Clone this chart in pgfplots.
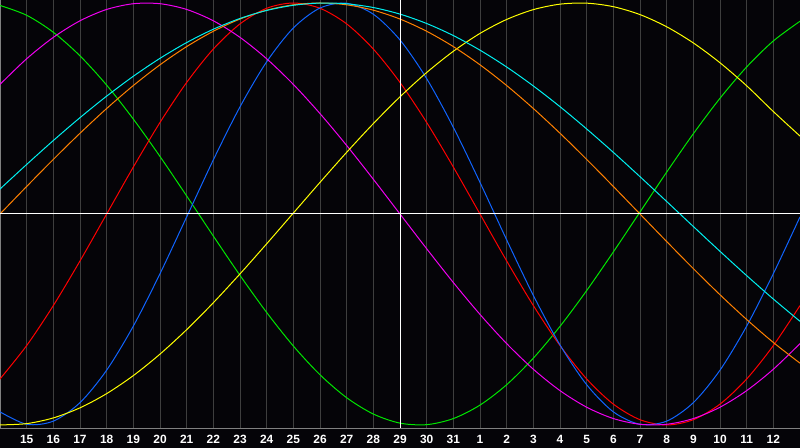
\documentclass[border=0pt]{standalone}
\usepackage{fontspec}
\setmainfont{Liberation Sans}
\usepackage{pgfplots}
\usepackage{pgfplotstable}
\pgfplotsset{compat=1.18}

\definecolor{bgc}{RGB}{5,4,8}
\definecolor{gridc}{RGB}{62,62,62}
\definecolor{framec}{RGB}{128,128,128}
\definecolor{cgreen}{RGB}{0,230,0}
\definecolor{cred}{RGB}{255,0,0}
\definecolor{cblue}{RGB}{16,100,255}
\definecolor{cmag}{RGB}{240,0,240}
\definecolor{cyel}{RGB}{255,255,0}
\definecolor{ccyan}{RGB}{0,240,240}
\definecolor{corange}{RGB}{255,128,0}

% day index (0 = left edge), one column per cycle
\pgfplotstableread{
t  green   red     blue    mag     yel     cyan    orange
0  0.9884 -0.7818 -0.9376  0.6142 -0.9995  0.1183  0.0000
1  0.9418 -0.6235 -0.9966  0.7357 -0.9935  0.2348  0.1305
2  0.8612 -0.4339 -0.9817  0.8371 -0.9664  0.3482  0.2588
3  0.7495 -0.2225 -0.8940  0.9157 -0.9186  0.4566  0.3827
4  0.6107  0.0000 -0.7401  0.9694 -0.8512  0.5586  0.5000
5  0.4498  0.2225 -0.5312  0.9966 -0.7658  0.6528  0.6088
6  0.2726  0.4339 -0.2828  0.9966 -0.6640  0.7378  0.7071
7  0.0856  0.6235 -0.0137  0.9694 -0.5481  0.8125  0.7934
8 -0.1045  0.7818  0.2566  0.9157 -0.4205  0.8757  0.8660
9 -0.2909  0.9010  0.5078  0.8371 -0.2838  0.9267  0.9239
10 -0.4667 0.9749  0.7214  0.7357 -0.1413  0.9646  0.9659
11 -0.6256 1.0000  0.8815  0.6142  0.0044  0.9890  0.9914
12 -0.7619 0.9749  0.9762  0.4759  0.1499  0.9996  1.0000
13 -0.8707 0.9010  0.9985  0.3248  0.2924  0.9961  0.9914
14 -0.9480 0.7818  0.9467  0.1646  0.4284  0.9785  0.9659
15 -0.9911 0.6235  0.8248  0.0000  0.5554  0.9473  0.9239
16 -0.9984 0.4339  0.6416 -0.1646  0.6705  0.9028  0.8660
17 -0.9695 0.2225  0.4108 -0.3248  0.7711  0.8456  0.7934
18 -0.9056 0.0000  0.1497 -0.4759  0.8559  0.7764  0.7071
19 -0.8090 -0.2225 -0.1226 -0.6142 0.9220  0.6966  0.6088
20 -0.6831 -0.4339 -0.3859 -0.7357 0.9686  0.6068  0.5000
21 -0.5325 -0.6235 -0.6205 -0.8371 0.9945  0.5086  0.3827
22 -0.3628 -0.7818 -0.8090 -0.9157 0.9992  0.4030  0.2588
23 -0.1798 -0.9010 -0.9376 -0.9694 0.9825  0.2921  0.1305
24  0.0096 -0.9749 -0.9966 -0.9966 0.9450  0.1769  0.0000
25  0.1985 -1.0000 -0.9817 -0.9966 0.8873  0.0593 -0.1305
26  0.3804 -0.9749 -0.8940 -0.9694 0.8107 -0.0593 -0.2588
27  0.5485 -0.9010 -0.7401 -0.9157 0.7167 -0.1769 -0.3827
28  0.6969 -0.7818 -0.5312 -0.8371 0.6076 -0.2921 -0.5000
29  0.8201 -0.6235 -0.2828 -0.7357 0.4856 -0.4030 -0.6088
30  0.9135 -0.4339 -0.0137 -0.6142 0.3694 -0.5086 -0.7071
}\bio

\begin{document}
\begin{tikzpicture}
\fill[bgc] (0,0) rectangle (800bp,448bp);
\begin{axis}[
  at={(0,20bp)}, anchor=south west,
  scale only axis, width=800bp, height=428bp,
  xmin=0, xmax=30, ymin=-1.0142, ymax=1.0142,
  axis background/.style={fill=bgc},
  axis line style={framec, line width=1bp},
  xtick={1,...,29},
  xticklabels={15,16,17,18,19,20,21,22,23,24,25,26,27,28,29,30,31,1,2,3,4,5,6,7,8,9,10,11,12},
  ytick=\empty,
  major tick length=0pt,
  xmajorgrids,
  grid style={gridc, line width=1bp},
  xticklabel style={anchor=center, yshift=-11bp, text=white,
    font=\fontsize{12}{13}\selectfont\bfseries},
  every axis plot/.append style={line width=1bp, smooth, no markers},
]
\addplot[cgreen]  table[x=t, y=green]  {\bio};
\addplot[cred]    table[x=t, y=red]    {\bio};
\addplot[cblue]   table[x=t, y=blue]   {\bio};
\addplot[cmag]    table[x=t, y=mag]    {\bio};
\addplot[cyel]    table[x=t, y=yel]    {\bio};
\addplot[corange] table[x=t, y=orange] {\bio};
\addplot[ccyan]   table[x=t, y=cyan]   {\bio};
% zero line and today marker
\addplot[white, sharp plot] coordinates {(0,0) (30,0)};
\addplot[white, sharp plot] coordinates {(15,-1.0142) (15,1.0142)};
\end{axis}
\pgfresetboundingbox
\path[use as bounding box] (0,0) rectangle (800bp,448bp);
\end{tikzpicture}
\end{document}
